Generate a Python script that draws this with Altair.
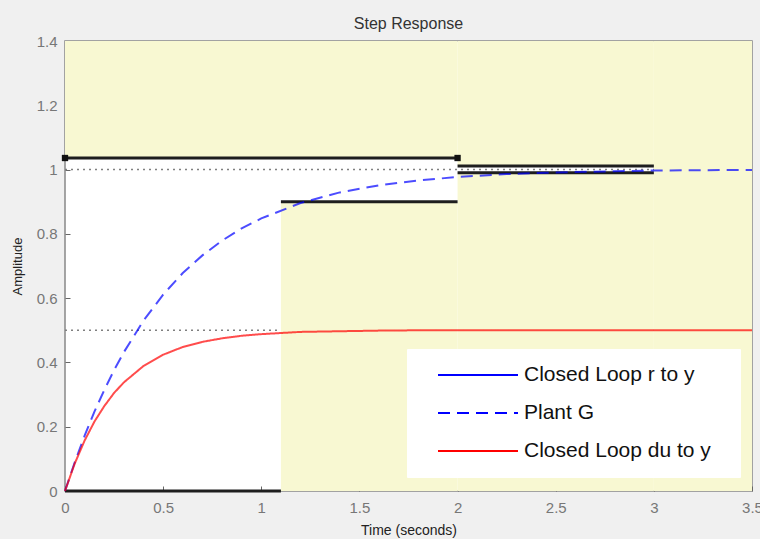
import altair as alt
import pandas as pd

# ---- data ----
t = [0, 0.05, 0.1, 0.15, 0.2, 0.25, 0.3, 0.4, 0.5, 0.6, 0.7, 0.8, 0.9, 1.0,
     1.2, 1.4, 1.6, 1.8, 2.0, 2.25, 2.5, 2.75, 3.0, 3.25, 3.5]
plant_g = [0, 0.090, 0.172, 0.247, 0.314, 0.376, 0.432, 0.530, 0.611, 0.678,
           0.733, 0.779, 0.817, 0.848, 0.896, 0.929, 0.951, 0.966, 0.977,
           0.986, 0.991, 0.994, 0.997, 0.998, 0.999]
du_to_y = [0, 0.086, 0.157, 0.216, 0.264, 0.305, 0.338, 0.389, 0.424, 0.448,
           0.464, 0.475, 0.483, 0.488, 0.495, 0.497, 0.499, 0.500, 0.500,
           0.500, 0.500, 0.500, 0.500, 0.500, 0.500]

series_names = ["Closed Loop r to y", "Plant G", "Closed Loop du to y"]
series_colors = ["#0000ff", "#0000ff", "#ff0000"]
series_dashes = [[1, 0], [12, 7], [1, 0]]

# steady-state reference levels (dotted)
steady_values = [1.0, 0.5]

# design-constraint regions (shaded)
region_x1 = [0.0, 2.0, 3.0, 1.1, 2.0]
region_x2 = [2.0, 3.0, 3.5, 2.0, 3.0]
region_y1 = [1.036, 1.011, 0.0, 0.0, 0.0]
region_y2 = [1.4, 1.4, 1.4, 0.9, 0.99]

# constraint edges (black)
bound_x1 = [0.0, 1.1, 2.0, 2.0, 0.0]
bound_x2 = [2.0, 2.0, 3.0, 3.0, 1.1]
bound_y = [1.036, 0.9, 1.011, 0.99, 0.0]

# end markers on the overshoot bound
marker_x = [0.0, 2.0]
marker_y = [1.036, 1.036]

x_ticks = [0, 0.5, 1, 1.5, 2, 2.5, 3, 3.5]
y_ticks = [0, 0.2, 0.4, 0.6, 0.8, 1.0, 1.2, 1.4]

# ---- tables ----
curves = pd.concat([
    pd.DataFrame({"t": t, "y": plant_g, "series": "Plant G"}),
    pd.DataFrame({"t": t, "y": du_to_y, "series": "Closed Loop du to y"}),
])
regions = pd.DataFrame({"x1": region_x1, "x2": region_x2,
                        "y1": region_y1, "y2": region_y2})
bounds = pd.DataFrame({"x1": bound_x1, "x2": bound_x2, "y": bound_y})
markers = pd.DataFrame({"x": marker_x, "y": marker_y})
steady = pd.DataFrame({"v": steady_values})

xscale = alt.Scale(domain=[0, 3.5], nice=False, zero=False)
yscale = alt.Scale(domain=[0, 1.4], nice=False, zero=False)

label_font = "Liberation Sans"

x_axis = alt.Axis(values=x_ticks, format="~g", title="Time (seconds)",
                  grid=False, domain=False, offset=-5, tickSize=5,
                  tickColor="#666666", labelPadding=9, labelFontSize=15,
                  labelColor="#777777", labelFont=label_font, labelFlush=False,
                  titleFont=label_font, titleFontSize=14,
                  titleFontWeight="normal", titleColor="#222222",
                  titlePadding=8)
y_axis = alt.Axis(values=y_ticks, format="~g", title="Amplitude",
                  grid=False, domain=False, offset=-5, tickSize=5,
                  tickColor="#666666", labelPadding=8, labelFontSize=15,
                  labelColor="#777777", labelFont=label_font, labelFlush=False,
                  titleFont=label_font, titleFontSize=13,
                  titleFontWeight="normal", titleColor="#222222",
                  titlePadding=12)

dotted = alt.Chart(steady).mark_rule(
    color="#808080", strokeDash=[2, 4], strokeWidth=1.4
).encode(
    y=alt.Y("v:Q", scale=yscale, axis=y_axis),
    x=alt.datum(0, scale=xscale, axis=x_axis),
    x2=alt.datum(3.5),
)

shade = alt.Chart(regions).mark_rect(color="#f8f8d2", opacity=1).encode(
    x=alt.X("x1:Q", scale=xscale),
    x2="x2:Q",
    y=alt.Y("y1:Q", scale=yscale),
    y2="y2:Q",
)

edges = alt.Chart(bounds).mark_rule(color="#1e1e1e", strokeWidth=3).encode(
    x=alt.X("x1:Q", scale=xscale),
    x2="x2:Q",
    y=alt.Y("y:Q", scale=yscale),
)

ends = alt.Chart(markers).mark_square(color="#111111", size=40, opacity=1).encode(
    x=alt.X("x:Q", scale=xscale),
    y=alt.Y("y:Q", scale=yscale),
)

legend = alt.Legend(title=" ", titleOrient="right", titlePadding=15)

lines = alt.Chart(curves).mark_line(strokeWidth=2, opacity=0.7).encode(
    x=alt.X("t:Q", scale=xscale),
    y=alt.Y("y:Q", scale=yscale),
    color=alt.Color("series:N",
                    scale=alt.Scale(domain=series_names, range=series_colors),
                    legend=legend),
    strokeDash=alt.StrokeDash("series:N",
                              scale=alt.Scale(domain=series_names, range=series_dashes),
                              legend=legend),
    order=alt.Order("t:Q"),
)

chart = alt.layer(dotted, shade, edges, ends, lines).properties(
    width=687,
    height=450,
    background="#f0f0f0",
    padding={"left": 65, "top": 41, "right": 8, "bottom": 48},
    autosize=alt.AutoSizeParams(type="none"),
    title=alt.TitleParams("Step Response", fontSize=16, fontWeight="normal",
                          font=label_font, color="#333333", offset=2,
                          anchor="middle"),
).configure_view(
    fill="#ffffff", stroke="#888888", strokeWidth=1.5
).configure_legend(
    orient="none",
    legendX=342,
    legendY=308,
    fillColor="#ffffff",
    strokeColor="#ffffff",
    padding=14,
    symbolType="stroke",
    symbolSize=6400,
    symbolStrokeWidth=2,
    symbolOpacity=1,
    symbolOffset=16,
    clipHeight=24,
    labelFontSize=21,
    labelFont=label_font,
    labelColor="#111111",
    labelOffset=5,
    labelLimit=400,
    rowPadding=14,
)

chart.save("out.html", embed_options={"renderer": "svg", "actions": False})
